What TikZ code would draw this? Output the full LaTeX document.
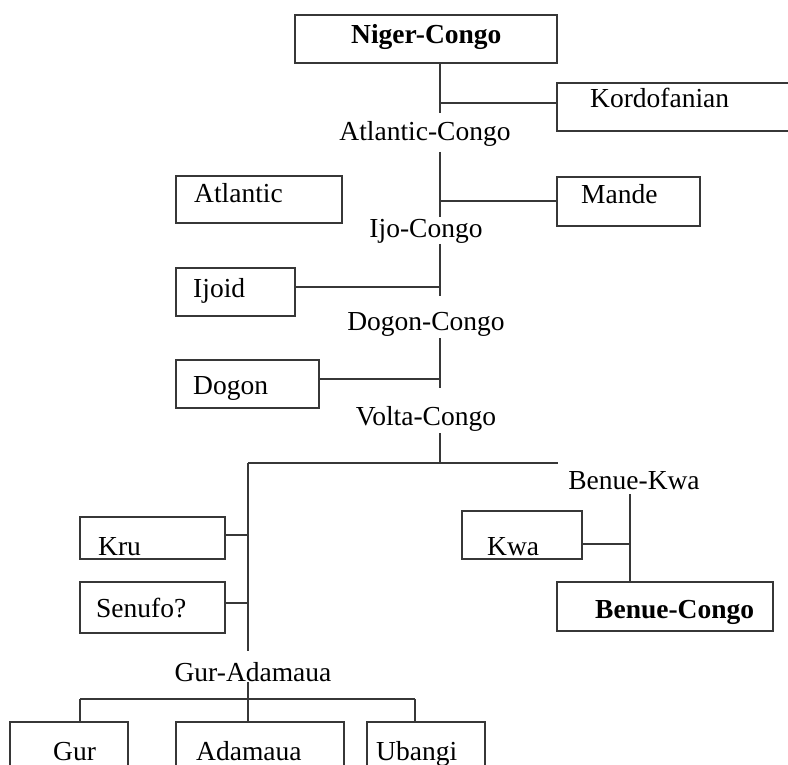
\documentclass[tikz,border=0pt]{standalone}
\usepackage{fontspec}
\setmainfont{Liberation Serif}
\definecolor{lc}{RGB}{55,55,55}
\begin{document}
\begin{tikzpicture}[x=1pt,y=-1pt,
  every node/.style={font=\fontsize{27.5}{33}\selectfont, text=black},
  box/.style={draw=lc, line width=1.5pt, inner sep=0pt, rectangle},
  txt/.style={inner sep=0pt, anchor=mid west, yshift=-7pt},
  lab/.style={inner sep=0pt, anchor=mid, yshift=-7pt},
  ln/.style={draw=lc, line width=1.5pt}]
\clip (0,0) rectangle (788,765);
\fill[white] (0,0) rectangle (788,765);

% boxes
\node[box, minimum width=262pt, minimum height=48pt] (nc) at (426,39) {};
\node[txt] (nct) at (351,34) {\bfseries Niger-Congo};
\node[box, minimum width=243pt, minimum height=48pt] (kord) at (678.5,107) {};
\node[txt] (kordt) at (590,98) {Kordofanian};
\node[box, minimum width=166pt, minimum height=47pt] (atl) at (259,199.5) {};
\node[txt] (atlt) at (194,193) {Atlantic};
\node[box, minimum width=143pt, minimum height=49pt] (mande) at (628.5,201.5) {};
\node[txt] (mandet) at (581,194) {Mande};
\node[box, minimum width=119pt, minimum height=48pt] (ijoid) at (235.5,292) {};
\node[txt] (ijoidt) at (193,288) {Ijoid};
\node[box, minimum width=143pt, minimum height=48pt] (dogon) at (247.5,384) {};
\node[txt] (dogont) at (193,385) {Dogon};
\node[box, minimum width=145pt, minimum height=42pt] (kru) at (152.5,538) {};
\node[txt] (krut) at (98,546) {Kru};
\node[box, minimum width=145pt, minimum height=51pt] (senufo) at (152.5,607.5) {};
\node[txt] (senufot) at (96,608) {Senufo?};
\node[box, minimum width=120pt, minimum height=48pt] (kwa) at (522,535) {};
\node[txt] (kwat) at (487,546) {Kwa};
\node[box, minimum width=216pt, minimum height=49pt] (bc) at (665,606.5) {};
\node[txt] (bct) at (595,609) {\bfseries Benue-Congo};
\node[box, minimum width=118pt, minimum height=70pt] (gur) at (69,757) {};
\node[txt] (gurt) at (53,751) {Gur};
\node[box, minimum width=168pt, minimum height=70pt] (adam) at (260,757) {};
\node[txt] (adamt) at (196,751) {Adamaua};
\node[box, minimum width=118pt, minimum height=70pt] (uban) at (426,757) {};
\node[txt] (ubant) at (376,751) {Ubangi};

% plain labels
\node[lab] (ac) at (425,131) {Atlantic-Congo};
\node[lab] (ijc) at (426,228) {Ijo-Congo};
\node[lab] (dc) at (426,321) {Dogon-Congo};
\node[lab] (vc) at (426,416) {Volta-Congo};
\node[lab] (bk) at (634,480) {Benue-Kwa};
\node[lab] (ga) at (253,672) {Gur-Adamaua};

% junction coordinates
\coordinate (a0) at (440,63);
\coordinate (a1) at (440,113);
\coordinate (jk) at (440,103);
\coordinate (b0) at (440,152);
\coordinate (b1) at (440,217);
\coordinate (jm) at (440,201);
\coordinate (c0) at (440,244);
\coordinate (c1) at (440,296);
\coordinate (ji) at (440,287);
\coordinate (d0) at (440,338);
\coordinate (d1) at (440,388);
\coordinate (jd) at (440,379);
\coordinate (e0) at (440,433);
\coordinate (e1) at (440,463);
\coordinate (hl) at (248,463);
\coordinate (hr) at (558,463);
\coordinate (lv) at (248,651);
\coordinate (jkru) at (248,535);
\coordinate (jsen) at (248,603);
\coordinate (r0) at (630,494);
\coordinate (jkwa) at (630,544);
\coordinate (g0) at (248,682);
\coordinate (g1) at (248,722);
\coordinate (gl) at (80,699);
\coordinate (gr) at (415,699);

% connectors
\draw[ln] (a0) -- (a1);
\draw[ln] (jk) -- (kord.west |- jk);
\draw[ln] (b0) -- (b1);
\draw[ln] (jm) -- (mande.west |- jm);
\draw[ln] (c0) -- (c1);
\draw[ln] (ijoid.east |- ji) -- (ji);
\draw[ln] (d0) -- (d1);
\draw[ln] (dogon.east |- jd) -- (jd);
\draw[ln] (e0) -- (e1);
\draw[ln] (hl) -- (hr);
\draw[ln] (hl) -- (lv);
\draw[ln] (kru.east |- jkru) -- (jkru);
\draw[ln] (senufo.east |- jsen) -- (jsen);
\draw[ln] (r0) -- (bc.north -| r0);
\draw[ln] (kwa.east |- jkwa) -- (jkwa);
\draw[ln] (g0) -- (g1);
\draw[ln] (gl) -- (gr);
\draw[ln] (gl) -- (gur.north -| gl);
\draw[ln] (gr) -- (uban.north -| gr);
\end{tikzpicture}
\end{document}
